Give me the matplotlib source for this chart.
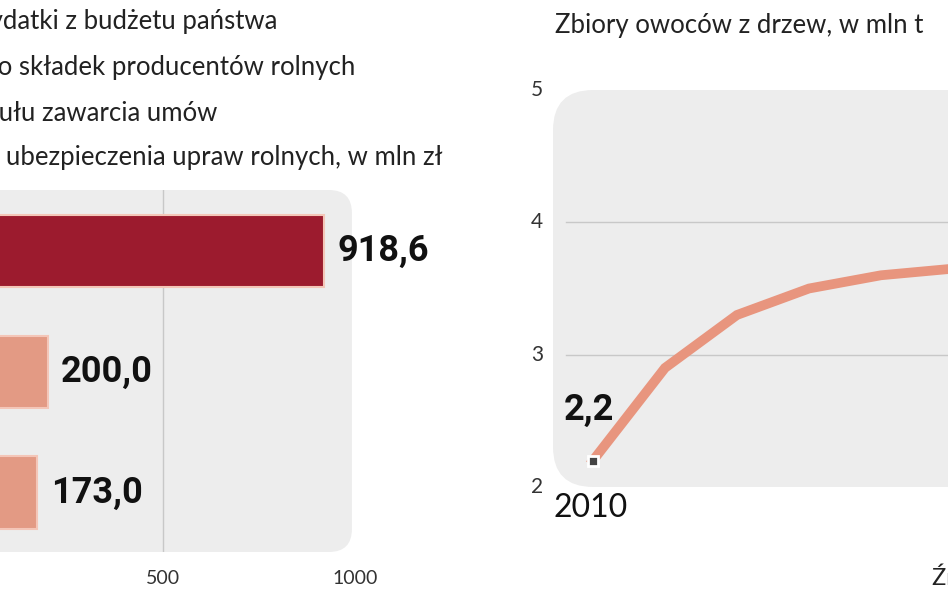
import matplotlib
matplotlib.use("Agg")
import matplotlib.pyplot as plt
from matplotlib.patches import FancyBboxPatch

# data
bar_values = [918.6, 200.0, 173.0]
bar_labels = ["918,6", "200,0", "173,0"]
bar_colors = ["#9c1b2e", "#e39a84", "#e39a84"]
bar_ticks = [500, 1000]
years = [2010, 2011, 2012, 2013, 2014, 2015]
fruit = [2.2, 2.9, 3.3, 3.5, 3.6, 3.65]
line_yticks = [2, 3, 4, 5]

W, H = 948, 593
fig = plt.figure(figsize=(W/100, H/100), dpi=100)
def box(l, t, r, b):
    return [l/W, 1-b/H, (r-l)/W, (b-t)/H]

txt = "#222222"
fs_title = 18.5
valfont = ["Roboto", "DejaVu Sans"]
for s, xr, y in [("Wydatki z budżetu państwa", 277, 22),
                 ("na dopłaty do składek producentów rolnych", 355, 68),
                 ("z tytułu zawarcia umów", 217, 113),
                 ("ubezpieczenia upraw rolnych, w mln zł", 443, 158)]:
    fig.text(xr/W, 1-y/H, s, ha="right", va="center", fontsize=fs_title, color=txt, family="Lato")
fig.text(555/W, 1-25/H, "Zbiory owoców z drzew, w mln t", ha="left", va="center",
         fontsize=fs_title, color=txt, family="Lato")

# left bar panel
ax = fig.add_axes(box(-29, 190, 355, 552))
ax.set_xlim(0, 1000)
ax.set_ylim(2.49, -0.504)
ax.axis("off")
ax.add_patch(FancyBboxPatch((-0.5, 0), 1.492, 1, boxstyle="round,pad=0,rounding_size=0.06",
             mutation_aspect=384/362, transform=ax.transAxes,
             facecolor="#ededed", edgecolor="none", zorder=0))
ax.plot([500, 500], [-0.504, 2.49], color="#c8c8c8", lw=1, zorder=1)
for i, (v, lab, c) in enumerate(zip(bar_values, bar_labels, bar_colors)):
    ax.barh(i, v, height=0.6, color=c, edgecolor="#f4c6b8", linewidth=1.5, zorder=2)
    ax.text(v + 35, i, lab, va="center", ha="left", fontsize=26, fontweight="bold",
            family=valfont, color="#111111", zorder=3)
for t in bar_ticks:
    ax.text(t, 2.71, str(t), ha="center", va="center", fontsize=14, color="#333333",
            family="Lato", clip_on=False)

# right line panel
ax2 = fig.add_axes(box(553, 90, 1000, 487))
ax2.set_xlim(2010 - 40/72, 2010 + 407/72)
ax2.set_ylim(2, 5)
ax2.axis("off")
ax2.add_patch(FancyBboxPatch((0, 0), 1.5, 1, boxstyle="round,pad=0,rounding_size=0.09",
              mutation_aspect=447/397, transform=ax2.transAxes,
              facecolor="#ededed", edgecolor="none", zorder=0))
for g in [3, 4]:
    ax2.axhline(g, xmin=0.03, color="#c8c8c8", lw=1, zorder=1)
for t in line_yticks:
    ax2.text(2010 - 56/72, t, str(t), ha="center", va="center", fontsize=15,
             color="#333333", family="Lato", clip_on=False)
ax2.plot(years, fruit, color="#e8957e", lw=7, solid_joinstyle="miter", zorder=2)
ax2.plot(years[0], fruit[0], marker="s", ms=7, mfc="#444444", mec="white", mew=2, zorder=3)
ax2.text(years[0] - 0.05, fruit[0] + 0.25, "2,2", ha="center", va="bottom", fontsize=26,
         fontweight="bold", family=valfont, color="#111111")
ax2.text(2010 - 40/72, 1.84, "2010", ha="left", va="center", fontsize=23, color="#111111",
         family="Lato", clip_on=False)
fig.text(932/W, 1-578/H, "Źródło: GUS", ha="left", va="center", fontsize=17, color=txt, family="Lato")

fig.savefig("out.png", dpi=100)
